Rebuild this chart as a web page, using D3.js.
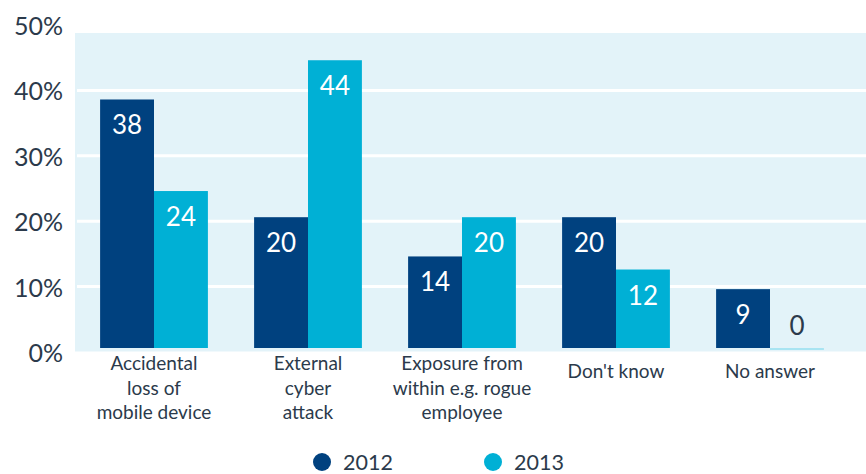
<!DOCTYPE html>
<html>
<head>
<meta charset="utf-8">
<script src="https://cdn.jsdelivr.net/npm/d3@7"></script>
<style>
  html, body { margin: 0; padding: 0; background: #fff; }
  svg { display: block; font-family: Lato, "Open Sans", sans-serif; }
</style>
</head>
<body>
<svg id="chart" width="866" height="474"></svg>
<script>
// Survey answers, percent of respondents
const categories = [
  "Accidental\nloss of\nmobile device",
  "External\ncyber\nattack",
  "Exposure from\nwithin e.g. rogue\nemployee",
  "Don't know",
  "No answer"
];
const seriesNames = ["2012", "2013"];
const values2012 = [38, 20, 14, 20, 9];
const values2013 = [24, 44, 20, 12, 0];
const yTicks = [0, 10, 20, 30, 40, 50];

const colors = { "2012": "#00417f", "2013": "#00b0d5" };
const textColor = "#2b3a4b";
const panelColor = "#e3f3f9";

const svg = d3.select("#chart");
const W = 866;

const data = categories.map((c, i) => ({
  category: c,
  values: [
    { series: "2012", value: values2012[i] },
    { series: "2013", value: values2013[i] }
  ]
}));

const y = d3.scaleLinear().domain([0, 50]).range([352, 25]);
const x0 = d3.scaleBand().domain(categories).range([77, 847])
  .paddingInner(0.3).paddingOuter(0.15);
const x1 = d3.scaleBand().domain(seriesNames).range([0, x0.bandwidth()]);

// bars sit slightly above the panel floor
const lift = 4;

// panel background
svg.append("rect")
  .attr("x", 75).attr("y", 33)
  .attr("width", W - 75).attr("height", y(0) - 33 - 0.5)
  .attr("fill", panelColor);

// white gridlines
svg.append("g").selectAll("line")
  .data(yTicks.filter(t => t > 0 && t < 50))
  .join("line")
  .attr("x1", 77).attr("x2", W)
  .attr("y1", d => y(d)).attr("y2", d => y(d))
  .attr("stroke", "#fff").attr("stroke-width", 3);

// y tick labels
svg.append("g").selectAll("text")
  .data(yTicks)
  .join("text")
  .attr("x", 63).attr("y", d => y(d))
  .attr("text-anchor", "end")
  .attr("dominant-baseline", "central")
  .attr("font-size", 25)
  .attr("fill", textColor)
  .text(d => d + "%");

// bars
const groups = svg.append("g").selectAll("g")
  .data(data)
  .join("g")
  .attr("transform", d => `translate(${x0(d.category)},0)`);

groups.selectAll("rect")
  .data(d => d.values)
  .join("rect")
  .attr("x", d => x1(d.series))
  .attr("width", x1.bandwidth())
  .attr("y", d => d.value > 0 ? y(d.value) - lift : y(0) - lift)
  .attr("height", d => d.value > 0 ? y(0) - y(d.value) : 2)
  .attr("fill", d => d.value > 0 ? colors[d.series] : "#a8e4f2");

// value labels: inside the bar top, or above a zero bar
groups.selectAll("text")
  .data(d => d.values)
  .join("text")
  .attr("x", d => x1(d.series) + x1.bandwidth() / 2)
  .attr("y", d => d.value > 0 ? y(d.value) - lift + 35 : y(0) - lift - 13)
  .attr("text-anchor", "middle")
  .attr("font-size", 26)
  .attr("fill", d => d.value > 0 ? "#fff" : textColor)
  .text(d => d.value);

// category labels under each group
const catLabels = svg.append("g").selectAll("text")
  .data(categories)
  .join("text")
  .attr("x", d => x0(d) + x0.bandwidth() / 2)
  .attr("y", d => d.includes("\n") ? 370 : 378)
  .attr("text-anchor", "middle")
  .attr("font-size", 19)
  .attr("fill", textColor);

catLabels.selectAll("tspan")
  .data(d => d.split("\n"))
  .join("tspan")
  .attr("x", function () { return d3.select(this.parentNode).attr("x"); })
  .attr("dy", (d, i) => i === 0 ? 0 : 24.5)
  .text(d => d);

// legend
const legendX = [322, 493];
const legend = svg.append("g").selectAll("g")
  .data(seriesNames)
  .join("g")
  .attr("transform", (d, i) => `translate(${legendX[i]},462)`);

legend.append("circle")
  .attr("r", 9)
  .attr("fill", d => colors[d]);

legend.append("text")
  .attr("x", 21).attr("y", 7.5)
  .attr("font-size", 21.5)
  .attr("fill", textColor)
  .text(d => d);
</script>
</body>
</html>
